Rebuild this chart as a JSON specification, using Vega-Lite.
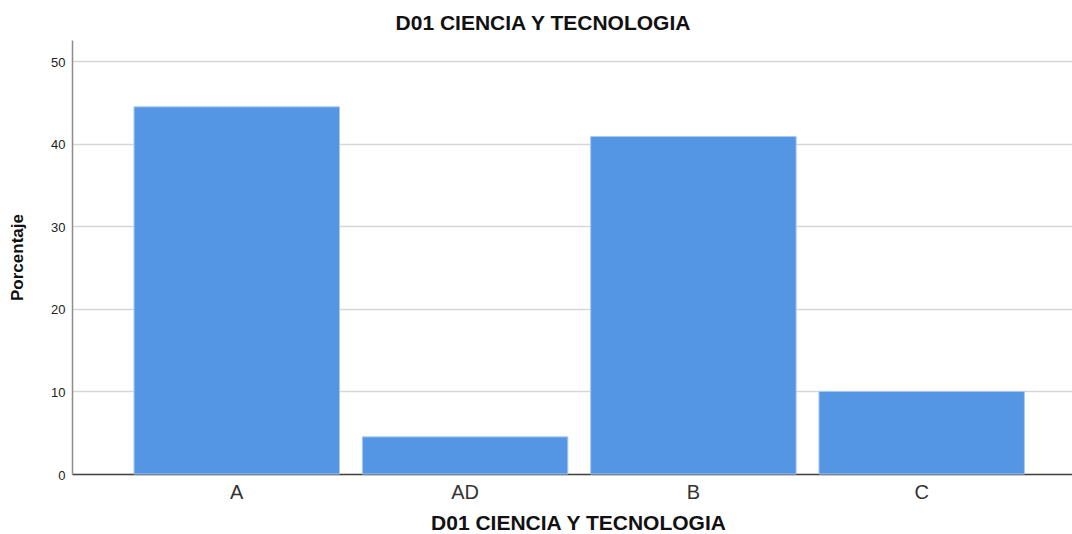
{
  "$schema": "https://vega.github.io/schema/vega-lite/v6.json",
  "autosize": {"type": "none"},
  "width": 1000,
  "height": 434,
  "padding": {"left": 72, "top": 40, "right": 0, "bottom": 60},
  "background": "white",
  "title": {
    "text": "D01 CIENCIA Y TECNOLOGIA",
    "font": "Liberation Sans",
    "fontSize": 21,
    "fontWeight": "bold",
    "color": "#111111",
    "anchor": "middle",
    "dx": -29,
    "offset": 6
  },
  "data": {
    "values": [
      {"categoria": "A", "porcentaje": 44.5},
      {"categoria": "AD", "porcentaje": 4.5},
      {"categoria": "B", "porcentaje": 40.9},
      {"categoria": "C", "porcentaje": 10.0}
    ]
  },
  "mark": {"type": "bar", "color": "#5596e4", "stroke": "#a9c9f0", "strokeWidth": 1},
  "encoding": {
    "x": {
      "field": "categoria",
      "type": "nominal",
      "sort": ["A", "AD", "B", "C"],
      "scale": {"paddingInner": 0.1, "paddingOuter": 0.24, "align": 0.566},
      "axis": {
        "title": "D01 CIENCIA Y TECNOLOGIA",
        "titleFont": "Liberation Sans",
        "titleFontSize": 21,
        "titleFontWeight": "bold",
        "titleColor": "#111111",
        "titlePadding": 10,
        "titleX": 506,
        "labelAngle": 0,
        "labelFont": "Liberation Sans",
        "labelFontSize": 20,
        "labelColor": "#333333",
        "labelPadding": 8,
        "ticks": false,
        "domainColor": "#444444",
        "domainWidth": 1.5,
        "grid": false
      }
    },
    "y": {
      "field": "porcentaje",
      "type": "quantitative",
      "scale": {"domain": [0, 52.6], "nice": false},
      "axis": {
        "title": "Porcentaje",
        "titleFont": "Liberation Sans",
        "titleFontSize": 17,
        "titleFontWeight": "bold",
        "titleColor": "#111111",
        "titlePadding": 24,
        "values": [0, 10, 20, 30, 40, 50],
        "labelFont": "Liberation Sans",
        "labelFontSize": 13,
        "labelColor": "#222222",
        "labelPadding": 7,
        "labelBaseline": "middle",
        "labelOffset": 1,
        "ticks": false,
        "domainColor": "#8c8c8c",
        "domainWidth": 1.5,
        "grid": true,
        "gridColor": "#d6d6d6",
        "gridWidth": 1.5
      }
    }
  },
  "config": {"view": {"stroke": null}}
}
